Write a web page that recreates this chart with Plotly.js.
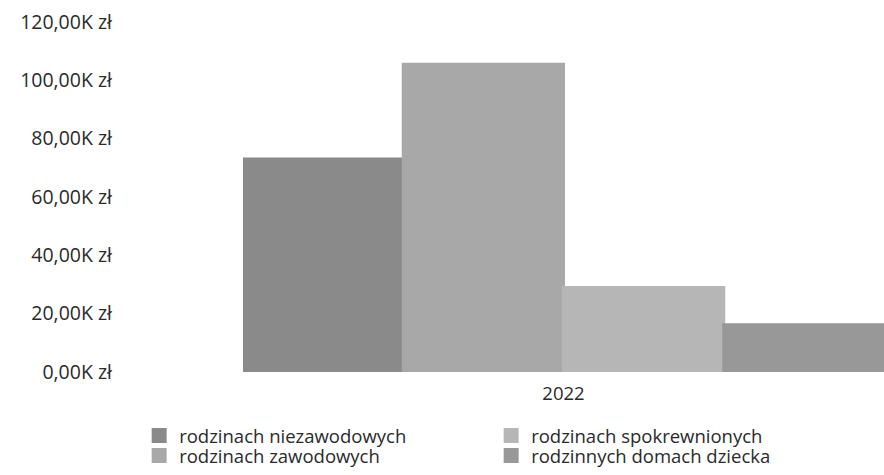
<!DOCTYPE html>
<html>
<head>
<meta charset="utf-8">
<script src="https://cdn.plot.ly/plotly-3.0.1.min.js"></script>
<style>
  html, body { margin: 0; padding: 0; background: #ffffff; }
  #chart { width: 884px; height: 475px; }
</style>
</head>
<body>
<div id="chart"></div>
<script>
// ---- data ----
const categories = ['2022'];
const seriesNames = [
  'rodzinach niezawodowych',
  'rodzinach zawodowych',
  'rodzinach spokrewnionych',
  'rodzinnych domach dziecka'
];
const seriesValues = [
  [73000],
  [105500],
  [29000],
  [16200]
];
const tickValues = [0, 20000, 40000, 60000, 80000, 100000, 120000];
const tickLabels = ['0,00K zł', '20,00K zł', '40,00K zł', '60,00K zł', '80,00K zł', '100,00K zł', '120,00K zł'];

// ---- styling ----
const colors = ['#8a8a8a', '#a8a8a8', '#b6b6b6', '#989898'];
const legendOf = ['legend', 'legend2', 'legend', 'legend2'];
const FONT = '"Open Sans", "Noto Sans", sans-serif';
const TEXT = '#2a2a2a';

const traces = seriesNames.map((name, i) => ({
  type: 'bar',
  name: name,
  x: categories,
  y: seriesValues[i],
  legend: legendOf[i],
  marker: { color: colors[i], line: { color: colors[i], width: 3 } },
  hoverinfo: 'skip'
}));

const legendCommon = {
  orientation: 'h',
  xref: 'paper', yref: 'paper',
  xanchor: 'left', yanchor: 'middle',
  entrywidth: 307,
  entrywidthmode: 'pixels',
  font: { family: FONT, size: 18.5, color: TEXT },
  bgcolor: 'rgba(0,0,0,0)',
  borderwidth: 0
};

const layout = {
  width: 884,
  height: 475,
  margin: { l: 243, r: 0, t: 22, b: 103 },
  paper_bgcolor: '#ffffff',
  plot_bgcolor: '#ffffff',
  barmode: 'group',
  bargap: 0,
  bargroupgap: 0,
  font: { family: FONT, size: 18, color: TEXT },
  xaxis: {
    type: 'category',
    showgrid: false,
    zeroline: false,
    showline: false,
    ticks: '',
    ticklabelstandoff: 8,
    tickfont: { family: FONT, size: 18.5, color: TEXT }
  },
  yaxis: {
    range: [0, 120000],
    tickmode: 'array',
    tickvals: tickValues,
    ticktext: tickLabels,
    showgrid: false,
    zeroline: false,
    showline: false,
    ticks: '',
    ticklabelstandoff: 130,
    tickfont: { family: FONT, size: 19.5, color: TEXT }
  },
  showlegend: true,
  legend: Object.assign({}, legendCommon, { x: -0.162, y: -0.183 }),
  legend2: Object.assign({}, legendCommon, { x: -0.162, y: -0.24 })
};

Plotly.newPlot('chart', traces, layout, { displayModeBar: false, staticPlot: true });
</script>
</body>
</html>
